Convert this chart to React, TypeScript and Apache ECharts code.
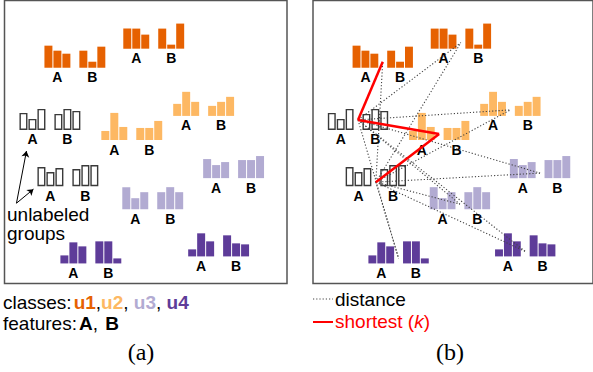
import React, { useEffect, useRef } from "react";
import * as echarts from "echarts";

// ---- data ----
const classNames = ["u1", "u2", "u3", "u4"];
const classColors = ["#e66101", "#fdb863", "#b2abd2", "#5e3c99"];
const featureLabels = ["A", "B"];
// groups: class index (-1 = unlabeled), centre x, bottom y (panel units)
const groupClass = [0, 0, -1, 1, 1, -1, 2, 2, 3, 3];
const groupX = [74.5, 153.5, 49.5, 131.5, 203.5, 67.5, 152.5, 233.5, 90.5, 218.5];
const groupY = [68, 49, 130, 140, 116, 186, 209, 178, 263, 256];
const featureA = [
  [22, 17, 14], [20, 20, 14], [17, 11, 21], [9, 27, 13], [12, 24, 14],
  [19, 14, 18], [22, 11, 17], [19, 13, 16], [8, 21, 17], [7, 23, 15],
];
const featureB = [
  [17, 6, 21], [20, 4, 25], [16, 21, 19], [12, 12, 19], [10, 14, 19],
  [17, 21, 21], [17, 22, 17], [18, 18, 22], [22, 22, 5], [21, 13, 12],
];
const anchorLift = [6, 6, 10, 6, 6, 4, 5, 5, 5, 5];
const unlabeledIdx = [2, 5];
const labeledIdx = [0, 1, 3, 4, 6, 7, 8, 9];
const shortestPairs = [[2, 0], [2, 3], [5, 3]];
const arrowStart = [16, 203];
const arrowEnds = [[26, 151], [33, 189]];

const SANS = '"Liberation Sans", Arial, Helvetica, sans-serif';
const SERIF = '"Liberation Serif", "Times New Roman", serif';
const BAR_W = 8;
const BAR_STEP = 9;

const anchor = (i: number) => [groupX[i], groupY[i] - anchorLift[i]];

function renderGroup(params: any, api: any) {
  const i = api.value(2);
  const cx = api.value(0);
  const by = api.value(1);
  const cls = groupClass[i];
  const children: any[] = [];
  const bw = api.size([BAR_W, 0])[0];
  [featureA[i], featureB[i]].forEach((vals, f) => {
    const start = f === 0 ? -30.5 : 4.5;
    vals.forEach((h, k) => {
      const p = api.coord([cx + start + k * BAR_STEP, by]);
      const hp = api.size([0, h])[1];
      if (cls < 0) {
        children.push({
          type: "rect",
          shape: { x: p[0] + 0.7, y: p[1] - hp + 0.7, width: bw - 1.4, height: hp - 1.4 },
          style: { fill: "#fff", stroke: "#3a3a3a", lineWidth: 1.4 },
        });
      } else {
        children.push({
          type: "rect",
          shape: { x: p[0], y: p[1] - hp, width: bw, height: hp },
          style: { fill: classColors[cls] },
        });
      }
    });
    const lp = api.coord([cx + start + 13, by + 9.5]);
    children.push({
      type: "text",
      style: {
        text: featureLabels[f],
        x: lp[0],
        y: lp[1],
        align: "center",
        verticalAlign: "middle",
        font: `bold 14px ${SANS}`,
        fill: "#000",
      },
    });
  });
  return { type: "group", children };
}

export default function App() {
  const ref = useRef<HTMLDivElement>(null);
  useEffect(() => {
    if (!ref.current) return;
    const chart = echarts.init(ref.current, undefined, { renderer: "svg" });
    const groupData = groupX.map((x, i) => [x, groupY[i], i]);
    const isShortest = (u: number, l: number) =>
      shortestPairs.some((p) => (p[0] === u && p[1] === l) || (p[0] === l && p[1] === u));
    const dotted: any[] = [];
    unlabeledIdx.forEach((u) =>
      labeledIdx.forEach((l) => {
        if (!isShortest(u, l)) dotted.push({ coords: [anchor(u), anchor(l)] });
      })
    );
    const red = shortestPairs.map((p) => ({ coords: [anchor(p[0]), anchor(p[1])] }));

    const gridBase = { top: 0.5, height: 283, width: 282.5, show: true, borderColor: "#555", borderWidth: 1.5, backgroundColor: "transparent" };
    const xa = { type: "value", min: 4, max: 287, show: false };
    const ya = { type: "value", min: 1, max: 283, inverse: true, show: false };

    chart.setOption({
      animation: false,
      backgroundColor: "#fff",
      grid: [
        { ...gridBase, left: 4.5 },
        { ...gridBase, left: 313 },
      ],
      xAxis: [{ ...xa, gridIndex: 0 }, { ...xa, gridIndex: 1 }],
      yAxis: [{ ...ya, gridIndex: 0 }, { ...ya, gridIndex: 1 }],
      series: [
        {
          type: "custom",
          xAxisIndex: 0,
          yAxisIndex: 0,
          renderItem: renderGroup,
          data: groupData,
          encode: { x: 0, y: 1 },
          z: 2,
          silent: true,
        },
        {
          type: "custom",
          xAxisIndex: 1,
          yAxisIndex: 1,
          renderItem: renderGroup,
          data: groupData,
          encode: { x: 0, y: 1 },
          z: 2,
          silent: true,
        },
        {
          type: "lines",
          coordinateSystem: "cartesian2d",
          xAxisIndex: 1,
          yAxisIndex: 1,
          data: dotted,
          lineStyle: { color: "#444", width: 1.1, type: [1.2, 2], opacity: 1 },
          z: 3,
          silent: true,
        },
        {
          type: "lines",
          coordinateSystem: "cartesian2d",
          xAxisIndex: 1,
          yAxisIndex: 1,
          data: red,
          lineStyle: { color: "#ff0000", width: 2.5, opacity: 1 },
          z: 4,
          silent: true,
        },
        {
          type: "lines",
          coordinateSystem: "cartesian2d",
          xAxisIndex: 0,
          yAxisIndex: 0,
          data: arrowEnds.map((e) => ({ coords: [arrowStart, e] })),
          symbol: ["none", "arrow"],
          symbolSize: 6,
          lineStyle: { color: "#000", width: 1, opacity: 1 },
          z: 4,
          silent: true,
        },
      ],
      graphic: [
        {
          type: "text",
          left: 7,
          top: 205,
          style: { text: "unlabeled\ngroups", font: `19px ${SANS}`, fill: "#000", lineHeight: 19 },
        },
        {
          type: "text",
          x: 3,
          y: 302,
          style: {
            text:
              "{n|classes:}{c0|" + classNames[0] + "}{n|,}{c1|" + classNames[1] + "}{n|, }{c2|" +
              classNames[2] + "}{n|, }{c3|" + classNames[3] + "}",
            verticalAlign: "middle",
            rich: {
              n: { font: `19px ${SANS}`, fill: "#000" },
              c0: { font: `bold 19px ${SANS}`, fill: classColors[0], padding: [0, 0, 0, 2] },
              c1: { font: `bold 19px ${SANS}`, fill: classColors[1] },
              c2: { font: `bold 19px ${SANS}`, fill: classColors[2] },
              c3: { font: `bold 19px ${SANS}`, fill: classColors[3] },
            },
          },
        },
        {
          type: "text",
          x: 3,
          y: 323,
          style: {
            text: "{n|features:}{b|" + featureLabels[0] + "}{n|, }{b|" + featureLabels[1] + "}",
            verticalAlign: "middle",
            rich: {
              n: { font: `19px ${SANS}`, fill: "#000" },
              b: { font: `bold 19px ${SANS}`, fill: "#000", padding: [0, 0, 0, 2] },
            },
          },
        },
        {
          type: "text",
          x: 141,
          y: 352,
          style: { text: "(a)", font: `24px ${SERIF}`, fill: "#000", align: "center", verticalAlign: "middle" },
        },
        {
          type: "line",
          shape: { x1: 313, y1: 299, x2: 333, y2: 299 },
          style: { stroke: "#444", lineWidth: 1.1, lineDash: [1.2, 2] },
        },
        {
          type: "text",
          x: 335,
          y: 299,
          style: { text: "distance", font: `19px ${SANS}`, fill: "#000", verticalAlign: "middle" },
        },
        {
          type: "line",
          shape: { x1: 313, y1: 322, x2: 333, y2: 322 },
          style: { stroke: "#ff0000", lineWidth: 2 },
        },
        {
          type: "text",
          x: 335,
          y: 321,
          style: {
            text: "{r|shortest (}{k|k}{r|)}",
            verticalAlign: "middle",
            rich: {
              r: { font: `19px ${SANS}`, fill: "#ff0000" },
              k: { font: `italic 19px ${SANS}`, fill: "#ff0000" },
            },
          },
        },
        {
          type: "text",
          x: 450,
          y: 352,
          style: { text: "(b)", font: `24px ${SERIF}`, fill: "#000", align: "center", verticalAlign: "middle" },
        },
      ],
    });
    return () => chart.dispose();
  }, []);
  return (
    <div
      ref={ref}
      style={{ position: "absolute", left: 0, top: 0, width: 593, height: 372, background: "#fff" }}
    />
  );
}
